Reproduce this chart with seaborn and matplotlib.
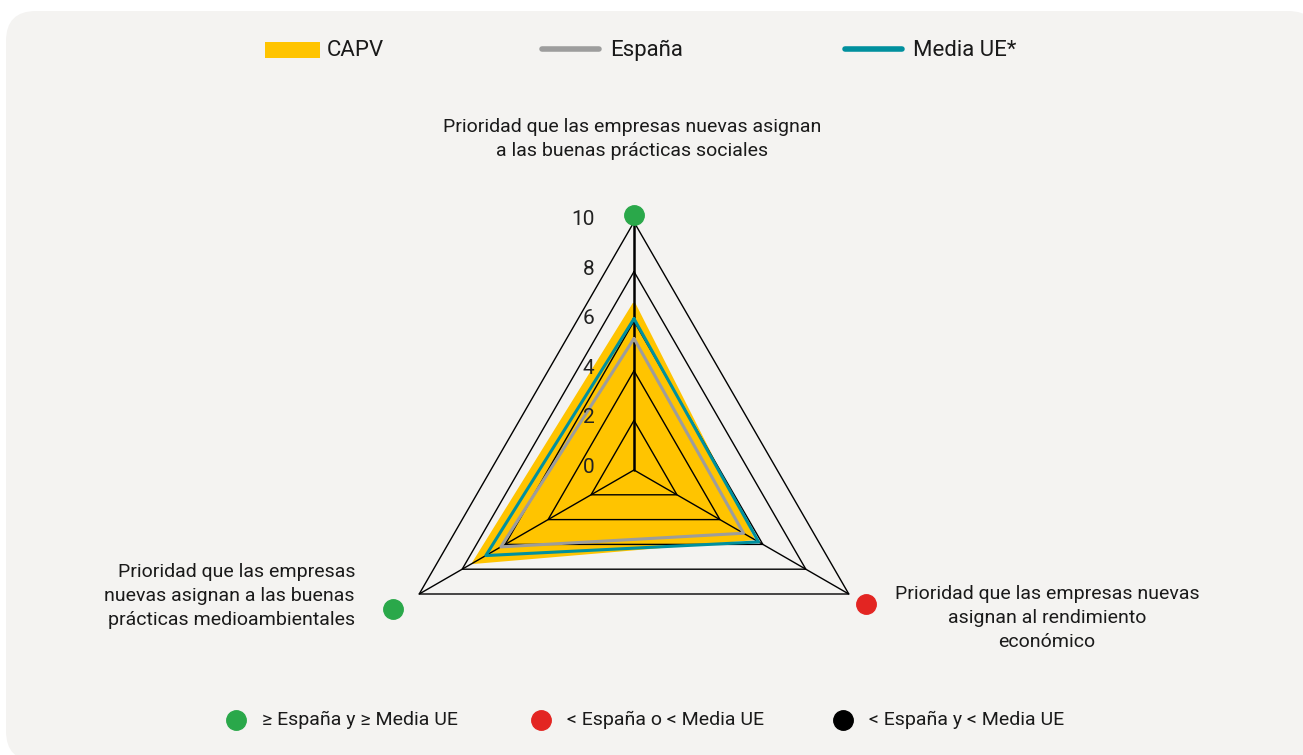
import numpy as np
import matplotlib
matplotlib.use("Agg")
import matplotlib.pyplot as plt
from matplotlib.patches import FancyBboxPatch, Rectangle
import seaborn as sns

# -------------------------------
# Data
# -------------------------------
axis_labels = [
    "Prioridad que las empresas nuevas asignan\na las buenas prácticas sociales",
    "Prioridad que las empresas nuevas\nasignan al rendimiento\neconómico",
    "Prioridad que las empresas\nnuevas asignan a las buenas\nprácticas medioambientales",
]
capv = [6.65, 5.5, 7.4]
espana = [5.3, 5.1, 6.2]
media_ue = [6.1, 5.8, 6.9]
axis_status = ["green", "red", "green"]
ring_ticks = [0, 2, 4, 6, 8, 10]

status_colors = {"green": "#2aa84a", "red": "#e32522", "black": "#000000"}
status_legend = [
    ("green", "≥ España y ≥ Media UE"),
    ("red", "< España o < Media UE"),
    ("black", "< España y < Media UE"),
]

YELLOW = "#ffc400"
GRAY = "#9d9d9d"
TEAL = "#00909e"
BG = "#f4f3f1"

sns.set_theme(style="white")
plt.rcParams["font.family"] = ["Roboto", "DejaVu Sans"]

W, H = 1303, 755
fig = plt.figure(figsize=(W / 100, H / 100), dpi=100)
fig.patch.set_facecolor("white")

# rounded background panel (runs off the right and bottom edges)
fig.patches.append(FancyBboxPatch(
    (6 / W, -6 / H), 1312 / W, 750 / H,
    boxstyle="round,pad=0,rounding_size=0.023",
    transform=fig.transFigure, facecolor=BG, edgecolor="none", zorder=-5,
    mutation_aspect=W / H))

# axes in value units: 24.8 px per unit, centre at (634, 470)
scale = 24.8
cx, cy = 634, 470
ax = fig.add_axes([0, 0, 1, 1])
ax.set_zorder(2)
ax.set_xlim(-cx / scale, (W - cx) / scale)
ax.set_ylim(-(H - cy) / scale, cy / scale)
ax.set_aspect("equal")
ax.axis("off")
ax.patch.set_alpha(0)

angles = np.deg2rad([90, -30, 210])


def to_xy(values):
    v = np.asarray(values, dtype=float)
    x = v * np.cos(angles)
    y = v * np.sin(angles)
    return np.append(x, x[0]), np.append(y, y[0])


# CAPV filled area
x, y = to_xy(capv)
ax.fill(x, y, color=YELLOW, zorder=1)
ax.plot(x, y, color=YELLOW, lw=3, zorder=1, solid_joinstyle="miter")

# grid rings and spokes
for r in ring_ticks[1:]:
    gx, gy = to_xy([r] * 3)
    ax.plot(gx, gy, color="black", lw=1.0, zorder=2)
for i, a in enumerate(angles):
    ax.plot([0, 10 * np.cos(a)], [0, 10 * np.sin(a)], color="black",
            lw=1.8 if i == 0 else 1.0, zorder=2)

# series lines
x, y = to_xy(espana)
sns.lineplot(x=x, y=y, sort=False, estimator=None, color=GRAY, lw=2.2, ax=ax, zorder=3)
x, y = to_xy(media_ue)
sns.lineplot(x=x, y=y, sort=False, estimator=None, color=TEAL, lw=2.2, ax=ax, zorder=4)

# radial tick labels
for r in ring_ticks:
    ax.text(-1.6, r + 0.1, str(r), ha="right", va="center", fontsize=15, color="#222222", zorder=5)

# status dots at axis ends
dot_r = [10.3, 10.8, 11.2]
for a, r, s in zip(angles, dot_r, axis_status):
    ax.plot(r * np.cos(a), r * np.sin(a), "o", ms=14, color=status_colors[s], zorder=6)

# axis labels
lab_style = dict(fontsize=14, color="#1a1a1a", linespacing=1.45)
fig.text(632 / W, 1 - 139 / H, axis_labels[0], ha="center", va="center", **lab_style)
fig.text(1047 / W, 1 - 618 / H, axis_labels[1], ha="center", va="center", **lab_style)
fig.text(355 / W, 1 - 596 / H, axis_labels[2], ha="right", va="center", multialignment="right", **lab_style)

# top legend
fig.patches.append(Rectangle((265 / W, 1 - 58 / H), 55 / W, 16 / H,
                             transform=fig.transFigure, facecolor=YELLOW, edgecolor="none"))
fig.text(327 / W, 1 - 50 / H, "CAPV", ha="left", va="center", fontsize=16, color="#1a1a1a")
fig.add_artist(plt.Line2D([542 / W, 599 / W], [1 - 49 / H] * 2, color=GRAY, lw=4,
                          solid_capstyle="round", transform=fig.transFigure))
fig.text(610 / W, 1 - 50 / H, "España", ha="left", va="center", fontsize=16, color="#1a1a1a")
fig.add_artist(plt.Line2D([845 / W, 902 / W], [1 - 49 / H] * 2, color=TEAL, lw=4,
                          solid_capstyle="round", transform=fig.transFigure))
fig.text(913 / W, 1 - 50 / H, "Media UE*", ha="left", va="center", fontsize=16, color="#1a1a1a")

# bottom legend
for (s, txt), px in zip(status_legend, [236, 541, 843]):
    fig.add_artist(plt.Line2D([px / W], [1 - 720 / H], marker="o", ms=14, lw=0,
                              color=status_colors[s], transform=fig.transFigure))
    fig.text((px + 26) / W, 1 - 720 / H, txt, ha="left", va="center", fontsize=14, color="#1a1a1a")

fig.savefig("out.png", dpi=100, facecolor="white")
